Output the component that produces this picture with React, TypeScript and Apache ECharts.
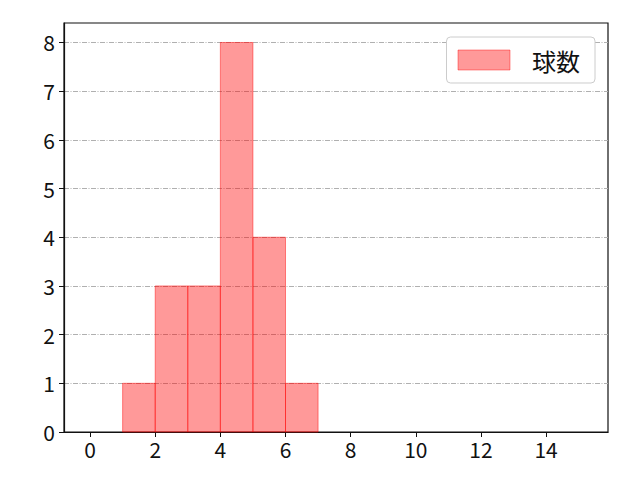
import React, { useEffect, useRef } from 'react';
import * as echarts from 'echarts';

// histogram bins (left edge, right edge) and counts
const binStarts = [1, 2, 3, 4, 5, 6];
const binEnds = [2, 3, 4, 5, 6, 7];
const counts = [1, 3, 3, 8, 4, 1];
const xTicks = [0, 2, 4, 6, 8, 10, 12, 14];
const yTicks = [0, 1, 2, 3, 4, 5, 6, 7, 8];
const seriesName = '球数';

const FONT = '"Noto Sans CJK JP", "DejaVu Sans", sans-serif';

const App: React.FC = () => {
  const chartRef = useRef<HTMLDivElement | null>(null);

  useEffect(() => {
    if (!chartRef.current) return;
    const chart = echarts.init(chartRef.current, undefined, { renderer: 'svg' });

    const data = binStarts.map((s, i) => [s, binEnds[i], counts[i]]);

    chart.setOption({
      animation: false,
      backgroundColor: '#ffffff',
      grid: {
        left: 64,
        right: 32,
        top: 23,
        bottom: 48,
        show: true,
        borderColor: '#111',
        borderWidth: 1.2,
        backgroundColor: 'transparent',
      },
      legend: {
        right: 45,
        top: 37,
        orient: 'vertical',
        padding: [11, 15, 11, 11],
        itemWidth: 52,
        itemHeight: 20,
        borderColor: '#cccccc',
        borderWidth: 1,
        borderRadius: 4,
        backgroundColor: '#ffffff',
        textStyle: { fontFamily: FONT, fontSize: 24, color: '#111', padding: [0, 0, 0, 17] },
        data: [
          {
            name: seriesName,
            icon: 'rect',
            itemStyle: { color: 'rgba(255,0,0,0.4)', borderColor: 'rgba(255,0,0,0.4)', borderWidth: 1 },
          },
        ],
      },
      xAxis: {
        type: 'value',
        min: -0.8,
        max: 15.9,
        splitNumber: 8,
        axisLine: { show: true, onZero: false, lineStyle: { color: '#111', width: 1.2 } },
        axisTick: { show: true, length: 5, lineStyle: { color: '#111' }, customValues: xTicks },
        axisLabel: { fontFamily: FONT, fontSize: 21, color: '#111', margin: 6, customValues: xTicks },
        splitLine: { show: false },
      },
      yAxis: {
        type: 'value',
        min: 0,
        max: 8.4,
        interval: 1,
        axisLine: { show: true, onZero: false, lineStyle: { color: '#111', width: 1.2 } },
        axisTick: { show: true, length: 5, lineStyle: { color: '#111' }, customValues: yTicks },
        axisLabel: { fontFamily: FONT, fontSize: 21, color: '#111', margin: 9, customValues: yTicks },
        splitLine: {
          show: true,
          lineStyle: { color: '#b0b0b0', width: 1, type: [5, 1.5, 1, 1.5] },
        },
      },
      series: [
        {
          name: seriesName,
          type: 'custom',
          data,
          encode: { x: [0, 1], y: 2 },
          itemStyle: { color: 'rgba(255,0,0,0.4)' },
          renderItem: (_params: any, api: any) => {
            const p0 = api.coord([api.value(0), api.value(2)]);
            const p1 = api.coord([api.value(1), 0]);
            return {
              type: 'rect',
              shape: { x: p0[0], y: p0[1], width: p1[0] - p0[0], height: p1[1] - p0[1] },
              style: { fill: 'rgba(255,0,0,0.4)', stroke: 'rgba(255,0,0,0.45)', lineWidth: 1 },
            };
          },
        },
      ],
    });

    return () => {
      chart.dispose();
    };
  }, []);

  return (
    <div
      ref={chartRef}
      style={{ position: 'fixed', left: 0, top: 0, width: '640px', height: '480px' }}
    ></div>
  );
};

export default App;
